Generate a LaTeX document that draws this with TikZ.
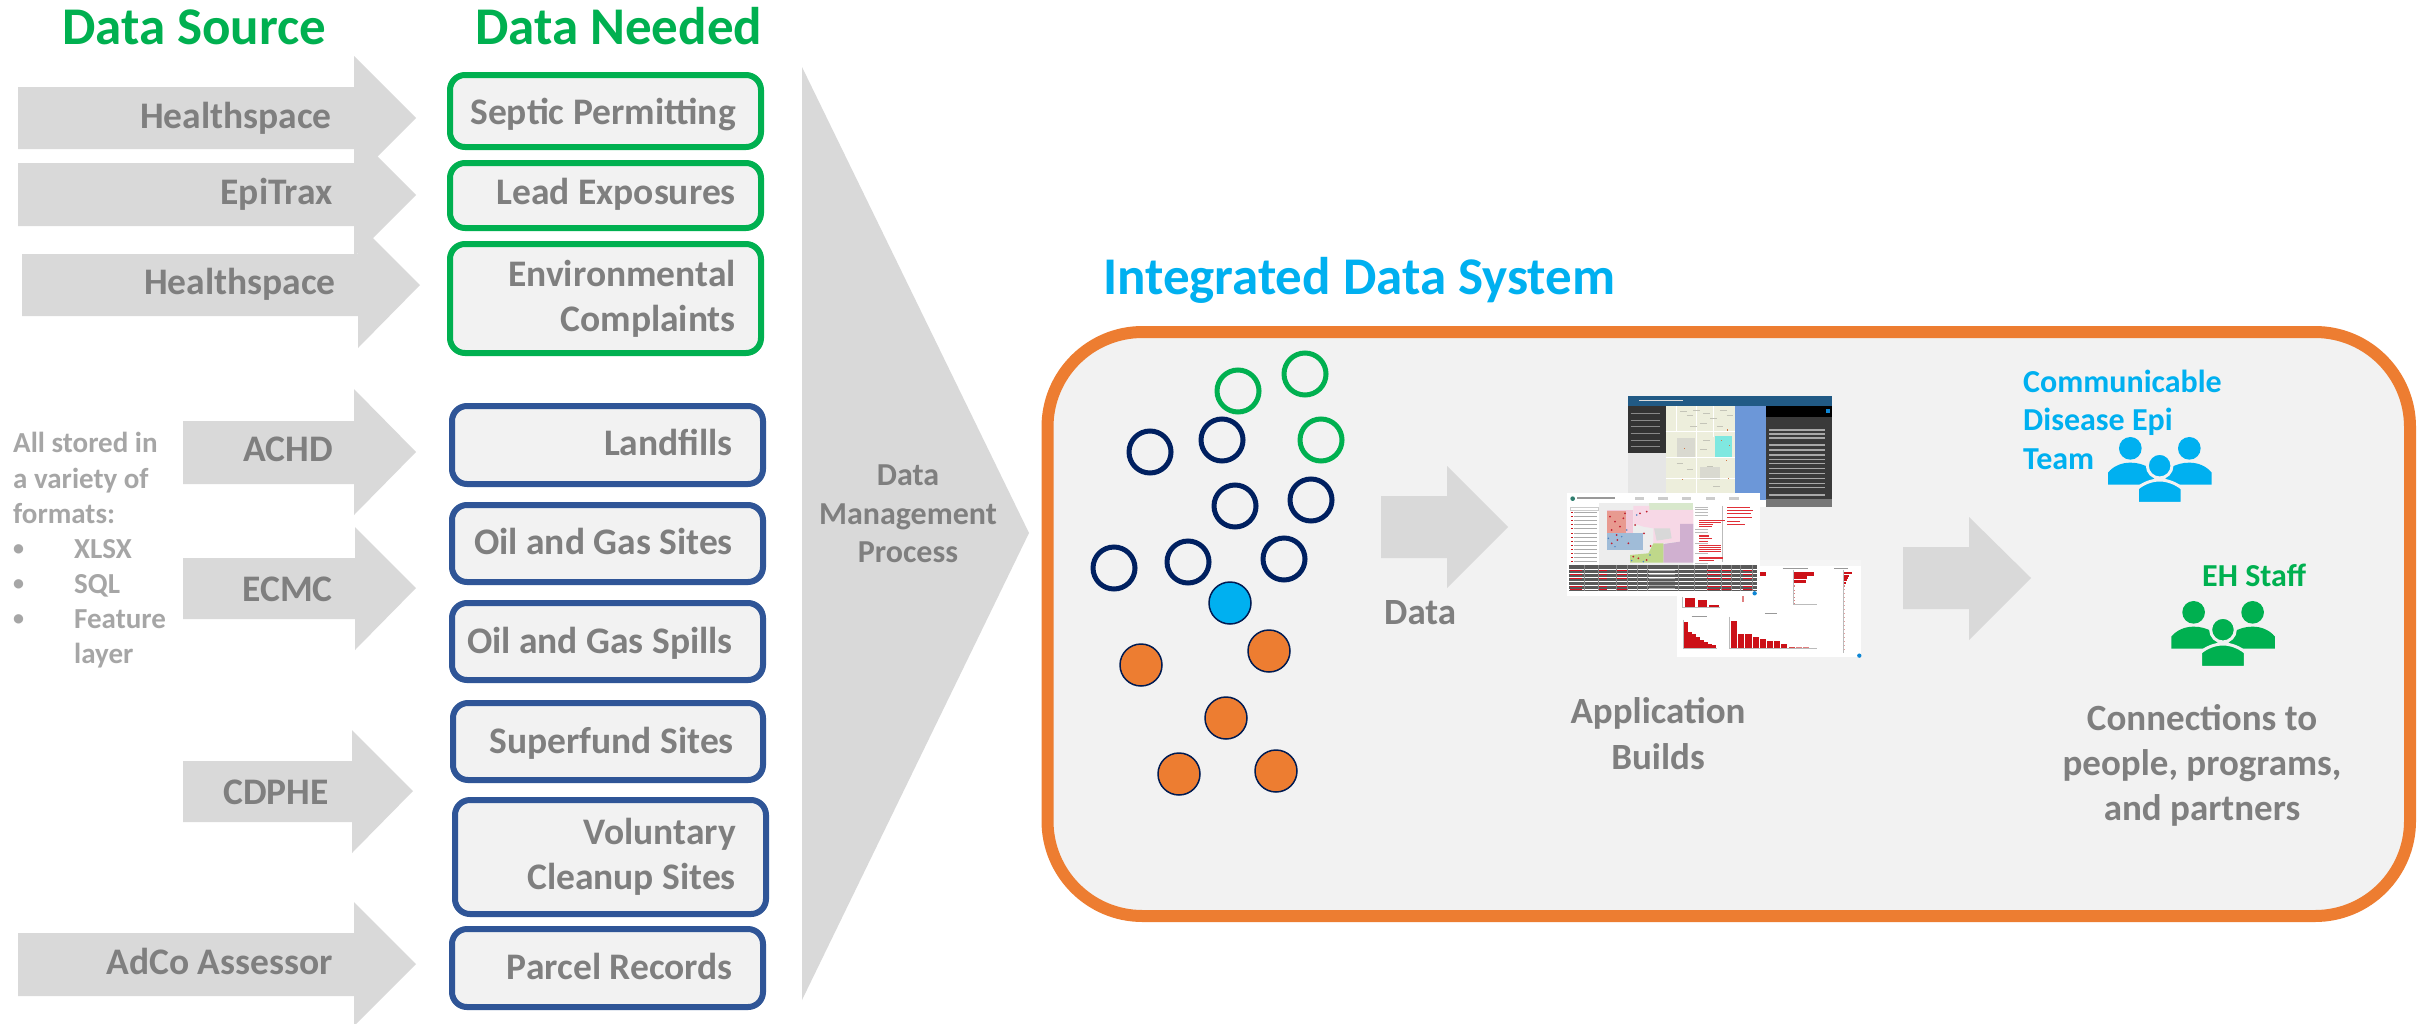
\documentclass[tikz,border=0pt]{standalone}
\usepackage{fontspec}
\setmainfont{Carlito}
\definecolor{gtxt}{HTML}{7F7F7F}
\definecolor{ltxt}{HTML}{A6A6A6}
\definecolor{arrowfill}{HTML}{D9D9D9}
\definecolor{panel}{HTML}{F2F2F2}
\definecolor{ggreen}{HTML}{00B050}
\definecolor{bblue}{HTML}{2F5597}
\definecolor{navy}{HTML}{002060}
\definecolor{sky}{HTML}{00B0F0}
\definecolor{orng}{HTML}{ED7D31}
\definecolor{rd}{HTML}{CC1118}
\newcommand{\garrow}[8]{\fill[arrowfill] (#1,#2) -- (#4,#2) -- (#4,#5) -- (#6,#7) -- (#4,#8) -- (#4,#3) -- (#1,#3) -- cycle;}
\tikzset{
 HTML/.code={\definecolor{tmpc}{HTML}{#1}\pgfkeysalso{/tikz/color=tmpc}},
 srclabel/.style={inner sep=0pt,yshift=-1.5pt,anchor=base east,text=gtxt,font=\bfseries\fontsize{37.5}{45}\selectfont},
 boxlabel/.style={inner sep=0pt,yshift=-1.5pt,anchor=base east,align=right,text=gtxt,font=\bfseries\fontsize{37.5}{45}\selectfont},
 title/.style={inner sep=0pt,yshift=-2pt,anchor=base west,text=ggreen,font=\bfseries\fontsize{53}{60}\selectfont},
 greenbox/.style={draw=ggreen,fill=panel,line width=6pt,rounded corners=15pt},
 bluebox/.style={draw=bblue,fill=panel,line width=6pt,rounded corners=15pt},
 note/.style={inner sep=0pt,yshift=-1pt,anchor=base west,text=ltxt,font=\bfseries\fontsize{29}{35}\selectfont},
 bull/.style={inner sep=0pt,yshift=-1pt,anchor=base west,text=ltxt,font=\bfseries\fontsize{22}{30}\selectfont},
 ring/.style={circle,inner sep=0pt,minimum size=42pt,line width=5pt},
 dot/.style={circle,inner sep=0pt,minimum size=42pt,line width=1.5pt,draw=navy!85!black},
 midlabel/.style={inner sep=0pt,yshift=-1.5pt,anchor=base,align=center,text=gtxt,font=\bfseries\fontsize{37}{46}\selectfont},
 team/.style={inner sep=0pt,yshift=-1pt,anchor=base west,font=\bfseries\fontsize{32}{38.5}\selectfont}
}
\newcommand{\people}[3]{%
 \begin{scope}[shift={(#1,#2)},x=0.3333pt,y=-0.3333pt]
  \fill[#3] (541,325) circle (34);
  \fill[#3] (718,325) circle (34);
  \fill[#3] (474,434) -- (474,398) .. controls (490,378) and (515,368) .. (541,368) .. controls (560,368) and (580,372) .. (600,385) -- (620,434) -- cycle;
  \fill[#3] (785,434) -- (785,398) .. controls (769,378) and (744,368) .. (718,368) .. controls (699,368) and (679,372) .. (659,385) -- (639,434) -- cycle;
  \filldraw[#3,draw=panel,line width=3pt] (629,377) circle (37);
  \filldraw[#3,draw=panel,line width=3pt] (562,490) -- (562,445) .. controls (580,430) and (605,420) .. (629,420) .. controls (653,420) and (678,430) .. (696,445) -- (696,490) -- cycle;
  \fill[panel] (540,486) rectangle (720,500);
 \end{scope}}
\begin{document}
\begin{tikzpicture}[x=1pt,y=-1pt]
\useasboundingbox (0,0) rectangle (2422,1023);
\fill[white] (0,0) rectangle (2422,1023);
\begin{scope}
\clip (0,0) rectangle (2422,1023);
% source arrows
\garrow{18}{87}{149}{354}{56}{416}{118}{180}
\garrow{18}{163}{226}{354}{133}{416}{195}{257}
\garrow{22}{254}{316}{358}{223}{420}{285}{348}
\garrow{183}{421}{484}{354}{389}{416}{452}{515}
\garrow{183}{558}{619}{355}{527}{416}{588}{650}
\garrow{183}{761}{822}{352}{730}{413}{791}{853}
\garrow{18}{933}{996}{354}{902}{416}{964}{1026}
\end{scope}
\node[srclabel] (s1) at (332,127) {Healthspace};
\node[srclabel] (s2) at (333,203) {EpiTrax};
\node[srclabel] (s3) at (336,293) {Healthspace};
\node[srclabel] (s4) at (333,460) {ACHD};
\node[srclabel] (s5) at (333,600) {ECMC};
\node[srclabel] (s6) at (329,803) {CDPHE};
\node[srclabel] (s7) at (333,973) {AdCo Assessor};
% titles
\node[title] (t1) at (62,42) {Data Source};
\node[title] (t2) at (475,42) {Data Needed};
% note
\node[note] (n1) at (13,451) {All stored in};
\node[note] (n2) at (13,487) {a variety of};
\node[note] (n3) at (13,522) {formats:};
\node[bull] (b1) at (13,554) {•};
\node[bull] (b2) at (13,589) {•};
\node[bull] (b3) at (13,624) {•};
\node[note] (n4) at (74,557) {XLSX};
\node[note] (n5) at (74,592) {SQL};
\node[note] (n6) at (74,627) {Feature};
\node[note] (n7) at (74,662) {layer};
% boxes
\draw[greenbox] (450,75) rectangle (761,147);
\draw[greenbox] (450,163) rectangle (761,228);
\draw[greenbox] (450,244) rectangle (761,353);
\draw[bluebox] (452,406) rectangle (763,484);
\draw[bluebox] (452,505) rectangle (763,582);
\draw[bluebox] (452,603) rectangle (763,680);
\draw[bluebox] (453,703) rectangle (763,780);
\draw[bluebox] (455,800) rectangle (766,914);
\draw[bluebox] (452,929) rectangle (763,1007);
\node[boxlabel] (d1) at (736,123) {Septic Permitting};
\node[boxlabel] (d2) at (736,203) {Lead Exposures};
\node[boxlabel] (d3) at (736,330) {Environmental\\Complaints};
\node[boxlabel] (d4) at (733,454) {Landfills};
\node[boxlabel] (d5) at (733,553) {Oil and Gas Sites};
\node[boxlabel] (d6) at (733,652) {Oil and Gas Spills};
\node[boxlabel] (d7) at (734,752) {Superfund Sites};
\node[boxlabel] (d8) at (736,888) {Voluntary\\Cleanup Sites};
\node[boxlabel] (d9) at (733,978) {Parcel Records};
% chevron
\fill[arrowfill] (802,67) -- (1029,533) -- (802,1000) -- cycle;
\node[midlabel,font=\bfseries\fontsize{32}{38.5}\selectfont] (dmp) at (908,561) {Data\\Management\\Process};
% panel
\node[inner sep=0pt,anchor=base west,text=sky,font=\bfseries\fontsize{53}{60}\selectfont] (ids) at (1103,294) {Integrated Data System};
\draw[draw=orng,fill=panel,line width=12pt,rounded corners=95pt] (1047.5,332) rectangle (2410,916);
% circles
\foreach \n/\x/\y in {g1/1238/391,g2/1305/374,g3/1321/440}
  \node[ring,draw=ggreen] (\n) at (\x,\y) {};
\foreach \n/\x/\y in {c1/1150/452,c2/1222/440,c3/1235/506,c4/1311/500,c5/1114/568,c6/1188/562,c7/1284/559}
  \node[ring,draw=navy] (\n) at (\x,\y) {};
\node[dot,fill=sky] (f0) at (1230,603) {};
\foreach \n/\x/\y in {o1/1141/665,o2/1269/651,o3/1226/718,o4/1179/774,o5/1276/771}
  \node[dot,fill=orng] (\n) at (\x,\y) {};
% inner arrows
\garrow{1381}{496}{558}{1447}{466}{1508}{527}{588}
\garrow{1903}{547}{609}{1969}{517}{2031}{578}{640}
\node[midlabel,anchor=base west] (dl) at (1384,623) {Data};
\node[midlabel] (ab) at (1658,768) {Application\\Builds};
\node[midlabel,font=\bfseries\fontsize{37}{45}\selectfont] (cp) at (2202,819) {Connections to\\people, programs,\\and partners};
\node[team,text=sky,align=left] (ce) at (2023,468) {Communicable\\Disease Epi\\Team};
\node[team,text=ggreen] (eh) at (2202,585) {EH Staff};
\people{1950}{340}{sky}
\people{2013.3}{504}{ggreen}
% screenshots
\begin{scope}[shift={(1500,370)},x=0.3333pt,y=-0.3333pt]
 % top map app
 \fill[white] (384,78) rectangle (995,410);
 \fill[HTML=215A85] (384,78) rectangle (995,108);
 \fill[HTML=333333] (384,108) rectangle (497,250);
 \fill[HTML=E6E6E6] (384,250) rectangle (497,410);
 \fill[HTML=EDEEDC] (497,108) rectangle (706,410);
 \fill[HTML=6C97D8] (706,108) rectangle (797,390);
 \fill[HTML=3A3A3A] (797,108) rectangle (995,390);
 \fill[black] (797,108) rectangle (995,140);
 \fill[HTML=777777] (797,388) rectangle (995,410);
 \fill[HTML=D9D9D0] (530,205) rectangle (585,260);
 \fill[HTML=D9D9D0] (600,290) rectangle (660,330);
 \fill[HTML=7FE8E0] (645,198) rectangle (695,262);
 \fill[HTML=0E86D4] (979,117) rectangle (989,128);
 \foreach \y in {130,150,170,190,210,230} \draw[HTML=888888,line width=1pt] (392,\y) -- (480,\y);
 \foreach \y in {180,192,204,225,240,255,268,280,295,310,325,340,352,375} \draw[HTML=A8A8A8,line width=1.2pt] (808,\y) -- (975,\y);
 \draw[HTML=FFFFFF,line width=1.5pt] (497,185) -- (706,185) (497,262) -- (706,262) (497,325) -- (706,325) (590,108) -- (590,410) (640,108) -- (640,200) (530,108) -- (530,185);
 \foreach \x/\y in {540/125,560/135,580/120,610/130,630/145,660/120,680/135,600/160,570/170,650/170,610/210,600/240,530/280,560/300,620/290,640/350,540/370,600/385}
   \draw[HTML=C4C4B8,line width=1pt] (\x,\y) -- (\x+20,\y);
 \foreach \x/\y in {682/180,664/212,688/226,553/235,680/272,547/329,686/325}
   \fill[HTML=D07848] (\x-2,\y-2) rectangle (\x+2,\y+2);
 \draw[HTML=DDDDDD,line width=1pt] (418,92) -- (548,92);
 % bottom-right dashboard
 \fill[white] (530,570) rectangle (1083,862);
 \fill[HTML=F5F5F5] (530,570) rectangle (1083,587);
 \fill[rd] (778,607) rectangle (798,618);
 \fill[rd] (881,607) rectangle (942,618);
 \fill[rd] (881,619) rectangle (920,628);
 \fill[rd] (881,629) rectangle (918,639);
 \fill[HTML=E08080] (881,645) rectangle (885,650);
 \draw[HTML=BBBBBB,line width=1pt] (880,600) -- (880,705) -- (950,705);
 \foreach \y in {660,670,680,690,700} \fill[HTML=E08080] (881,\y) rectangle (883,\y+3);
 \fill[rd] (1033,607) rectangle (1055,613);
 \fill[rd] (1033,614) rectangle (1048,620);
 \fill[rd] (1033,621) rectangle (1043,627);
 \fill[rd] (1033,628) rectangle (1040,634);
 \fill[rd] (1033,635) rectangle (1038,641);
 \fill[HTML=E08080] (1033,645) rectangle (1036,652);
 \draw[HTML=BBBBBB,line width=1pt] (1032,600) -- (1032,850);
 \foreach \y in {660,672,684,696,708,720,732,744,756,768,780,792,804,816,828,840} \draw[HTML=E8A0A0,line width=1pt] (1033,\y) -- (1035,\y);
 \fill[rd] (556,683) rectangle (586,714);
 \fill[rd] (593,690) rectangle (622,714);
 \fill[rd] (628,706) rectangle (657,714);
 \draw[HTML=BBBBBB,line width=1pt] (548,680) -- (548,714) -- (660,714);
 \draw[HTML=E08080,line width=2pt] (728,678) -- (728,695);
 \fill[rd] (553,757) rectangle (563,835);
 \fill[rd] (564,787) rectangle (575,835);
 \fill[rd] (576,791) rectangle (587,835);
 \fill[rd] (588,800) rectangle (599,835);
 \fill[rd] (600,811) rectangle (611,835);
 \fill[rd] (612,815) rectangle (623,835);
 \fill[rd] (624,822) rectangle (635,835);
 \fill[rd] (636,826) rectangle (647,835);
 \draw[HTML=BBBBBB,line width=1pt] (550,750) -- (550,836) -- (650,836);
 \fill[rd] (694,754) rectangle (711,835);
 \fill[rd] (713,792) rectangle (731,835);
 \fill[rd] (735,792) rectangle (755,835);
 \fill[rd] (758,800) rectangle (777,835);
 \fill[rd] (780,807) rectangle (798,835);
 \fill[rd] (801,813) rectangle (820,835);
 \fill[rd] (822,814) rectangle (841,835);
 \fill[rd] (844,822) rectangle (862,835);
 \fill[HTML=D84848] (866,831) rectangle (884,835);
 \fill[HTML=E08080] (887,831) rectangle (905,835);
 \fill[HTML=E08080] (908,831) rectangle (928,835);
 \fill[HTML=E08080] (930,833) rectangle (948,835);
 \draw[HTML=BBBBBB,line width=1pt] (690,740) -- (690,836) -- (950,836);
 \draw[HTML=999999,line width=1pt] (575,739) -- (622,739) (795,732) -- (832,732) (848,595) -- (925,595) (1002,595) -- (1045,595);
 \fill[HTML=0E86D4] (1078,857) circle (6.5);
 % middle map dashboard
 \fill[white] (201,370) rectangle (780,678);
 \fill[HTML=2E7D6E] (218,386) circle (7);
 \draw[HTML=999999,line width=2pt] (232,384) -- (345,384);
 \foreach \x in {405,475,545,618,688} \fill[HTML=CCCCCC] (\x,382) rectangle (\x+28,390);
 \fill[HTML=EDEDED] (298,400) rectangle (580,585);
 \fill[HTML=D8E8CC] (448,400) rectangle (580,420);
 \fill[HTML=F7D8E6] (400,408) -- (448,408) -- (448,420) -- (580,420) -- (580,462) -- (540,462) -- (540,515) -- (490,520) -- (460,520) -- (460,475) -- (430,470) -- (400,460) -- cycle;
 \fill[HTML=F0C8D8] (320,420) rectangle (400,490);
 \fill[HTML=E89A90] (322,422) rectangle (378,488);
 \fill[HTML=D0B0D0] (490,522) -- (540,515) -- (540,462) -- (580,462) -- (580,578) -- (490,578) -- cycle;
 \fill[HTML=A0BCD8] (322,490) rectangle (430,540);
 \fill[HTML=BFD88A] (390,555) -- (445,550) -- (460,520) -- (490,520) -- (490,578) -- (390,578) -- cycle;
 \fill[HTML=D8D8D8] (462,475) -- (510,475) -- (515,505) -- (470,512) -- cycle;
 \foreach \x/\y in {330/440,345/455,360/470,335/480,350/495,370/445,420/430,432/490,405/465,335/520,352/510,440/425,400/560,415/565,440/570,452/528,375/430,385/520}
   \fill[HTML=C02030] (\x,\y) circle (3);
 \foreach \x/\y in {325/505,345/530,365/500,380/480,410/435,395/572,430/575,450/555}
   \fill[HTML=4A7FC0] (\x,\y) circle (2.5);
 \foreach \y in {428,440,452,464,476,490,502,514,526,538,550,562,574} {
   \fill[HTML=CC1118] (213,\y-2) rectangle (218,\y+2);
   \draw[HTML=AAAAAA,line width=1pt] (222,\y) -- (290,\y);
 }
 \draw[HTML=CCCCCC,line width=1pt] (210,412) rectangle (295,422);
 \draw[HTML=BBBBBB,line width=1pt] (668,408) -- (668,575);
 \foreach \y/\w in {450/78,456/65,462/42,468/38,496/30,504/38,512/28,524/65,530/65,536/65,542/65,562/72,570/45}
   \fill[HTML=E03038] (597,\y) rectangle (597+\w,\y+4);
 \foreach \y/\w in {412/70,420/80,428/72,442/75,452/40,462/55}
   \fill[HTML=E03038] (680,\y) rectangle (680+\w,\y+3);
 \foreach \y in {412,420,428,436,480,488,520,552,580} \draw[HTML=BBBBBB,line width=1pt] (585,\y) -- (625,\y);
 \fill[HTML=595959] (207,585) rectangle (770,662);
 \foreach \y in {591,603,615,627,639,651} \draw[white,line width=0.6pt] (207,\y+6) -- (770,\y+6);
 \foreach \x in {252,295,350,382,413,443,536,584,622,665,695,723,757} \draw[HTML=888888,line width=1pt] (\x,585) -- (\x,662);
 \foreach \y in {601,613,625,647,656} {
   \fill[HTML=DD1020] (210,\y) rectangle (246,\y+3);
   \fill[HTML=DD1020] (296,\y) rectangle (322,\y+3);
   \fill[HTML=DD1020] (352,\y) rectangle (380,\y+3);
   \fill[HTML=DD1020] (622,\y) rectangle (660,\y+3);
   \fill[HTML=DD1020] (667,\y) rectangle (692,\y+3);
   \fill[HTML=DD1020] (730,\y) rectangle (755,\y+3);
 }
 \foreach \y in {603,615,627,636,647,656} \draw[HTML=AAAAAA,line width=1pt] (448,\y) -- (525,\y);
 \fill[HTML=0E86D4] (764,670) circle (6.5);
\end{scope}
\end{tikzpicture}
\end{document}
